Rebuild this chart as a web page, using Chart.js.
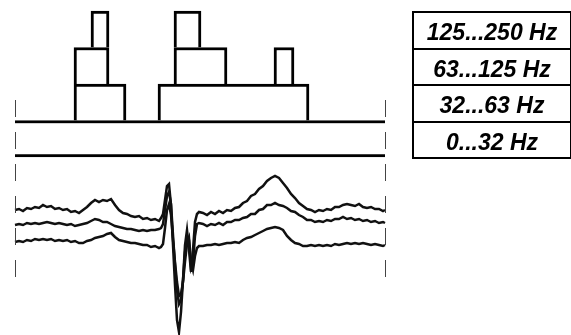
<!DOCTYPE html>
<html>
<head>
<meta charset="utf-8">
<script src="https://cdn.jsdelivr.net/npm/chart.js@4.4.1/dist/chart.umd.min.js"></script>
<style>
  html, body { margin: 0; padding: 0; background: #fff; }
  #wrap { position: relative; width: 571px; height: 335px; overflow: hidden; }
  #wrap canvas { position: absolute; left: 0; top: 0; }
  #bandTable {
    position: absolute; left: 412px; top: 11px; width: 156px;
    border: 2px solid #000;
    font: italic bold 23px "Liberation Sans", Arial, sans-serif;
    color: #000;
  }
  #bandTable div {
    height: 34.5px; line-height: 38px; text-align: center;
    border-top: 2px solid #000;
  }
  #bandTable div:first-child { border-top: none; }
</style>
</head>
<body>
<div id="wrap">
  <canvas id="waves" width="571" height="335"></canvas>
  <canvas id="bands" width="571" height="335"></canvas>
  <div id="bandTable"></div>
</div>
<script>
// 频带（从上到下）
const bandLabels = ['125...250 Hz', '63...125 Hz', '32...63 Hz', '0...32 Hz'];

// 各频带的活动区间 [起, 止]（ms），按列分组
const burstA = [[152, 188], [118, 188], [118, 222], [0, 740]];
const burstB = [[318, 372], [318, 424], [286, 588], null];
const burstC = [null, [518, 558], null, null];

// 时间轴（ms）
const timeMs = [
  0, 8, 16, 24, 32, 40, 48, 56, 64, 72, 80, 88, 96, 104, 112, 120, 128, 136, 144, 152,
  160, 168, 176, 184, 192, 200, 208, 216, 224, 232, 240, 248, 256, 264, 272, 280, 288,
  292, 296, 300, 304, 308, 312, 316, 320, 324, 328, 332, 336, 340, 344, 348, 352, 356, 360, 364, 368,
  376, 384, 392, 400, 408, 416, 424, 432, 440, 448, 456, 464, 472, 480, 488, 496, 504, 512,
  520, 528, 536, 544, 552, 560, 568, 576, 584, 592, 600, 608, 616, 624, 632, 640, 648, 656,
  664, 672, 680, 688, 696, 704, 712, 720, 728, 736, 740
];

// 三条波形
const trace1 = [
  30, 31, 29, 32, 31, 33, 32, 35, 33, 34, 31, 32, 30, 31, 28, 29, 27, 30, 33, 37,
  40, 38, 40, 39, 41, 35, 30, 27, 26, 24, 23, 24, 21, 22, 20, 21, 19,
  22, 26, 40, 54, 56, 35, -5, -45, -80, -92, -72, -40, -5, 10, -10, -32, -10, 18, 26, 28,
  27, 25, 28, 26, 29, 27, 30, 29, 32, 33, 37, 39, 44, 46, 51, 54, 59, 62, 64, 62,
  57, 52, 46, 42, 37, 34, 31, 30, 28, 30, 29, 31, 30, 33, 33, 35, 36, 35, 34, 36,
  33, 32, 33, 31, 31, 29, 30
];
const trace2 = [
  15, 16, 15, 17, 16, 17, 16, 17, 18, 17, 16, 17, 16, 15, 16, 14, 15, 16, 17, 19,
  21, 20, 18, 18, 16, 14, 13, 12, 11, 11, 10, 9, 10, 9, 10, 10, 11,
  12, 16, 30, 44, 48, 36, 5, -25, -50, -64, -60, -40, -12, 4, 0, -28, -22, 4, 16, 17,
  16, 14, 16, 15, 17, 15, 18, 18, 20, 20, 22, 23, 26, 26, 30, 31, 35, 35, 37, 35,
  34, 32, 29, 28, 25, 23, 20, 20, 18, 19, 18, 20, 19, 21, 21, 23, 21, 22, 20, 21,
  19, 20, 18, 19, 17, 18, 17
];
const trace3 = [
  -2, -1, -2, 0, -1, 1, 0, 1, 0, 1, -1, 0, -1, 0, -2, -1, -3, -3, -1, 0,
  2, 3, 4, 6, 7, 3, 0, -1, -2, -3, -3, -4, -5, -5, -7, -6, -8,
  -7, -4, 12, 30, 36, 25, 0, -22, -42, -56, -54, -42, -22, -4, 2, -22, -30, -16, -8, -6,
  -6, -5, -5, -4, -5, -4, -3, -3, -2, -3, 0, 2, 3, 5, 7, 9, 11, 12, 13, 12,
  10, 4, 0, -3, -4, -6, -6, -5, -6, -5, -6, -5, -6, -4, -5, -4, -3, -4, -3, -4,
  -3, -4, -5, -4, -5, -6, -5
];

// ==================== 图例表格 ====================
const table = document.getElementById('bandTable');
bandLabels.forEach(label => {
  const row = document.createElement('div');
  row.textContent = label;
  table.appendChild(row);
});

// ==================== 波形 ====================
const toPoints = values => timeMs.map((t, i) => ({ x: t, y: values[i] }));

new Chart(document.getElementById('waves'), {
  type: 'line',
  data: {
    datasets: [trace1, trace2, trace3].map(v => ({
      data: toPoints(v),
      borderColor: '#111',
      borderWidth: 2.5,
      pointRadius: 0,
      tension: 0,
      clip: false
    }))
  },
  options: {
    responsive: false,
    animation: false,
    layout: { padding: { left: 15, right: 186, top: 160, bottom: 0 } },
    plugins: { legend: { display: false }, tooltip: { enabled: false } },
    scales: {
      x: { type: 'linear', min: 0, max: 740, display: false },
      y: { type: 'linear', min: -95, max: 80, display: false }
    }
  }
});

// ==================== 频带条 ====================
// 两端的断裂虚线
const breakLines = {
  id: 'breakLines',
  afterDatasetsDraw(chart) {
    const ctx = chart.ctx;
    const xs = chart.scales.x;
    ctx.save();
    ctx.strokeStyle = '#444';
    ctx.lineWidth = 1;
    ctx.setLineDash([17, 15]);
    [xs.min, xs.max].forEach(v => {
      const px = Math.round(xs.getPixelForValue(v)) + 0.5;
      ctx.beginPath();
      ctx.moveTo(px, 100);
      ctx.lineTo(px, 280);
      ctx.stroke();
    });
    ctx.restore();
  }
};

const barStyle = {
  backgroundColor: '#fff',
  borderColor: '#000',
  borderSkipped: false,
  borderWidth: ctx => ctx.dataIndex === 3
    ? { top: 3, bottom: 3, left: 0, right: 0 }
    : { top: 3, bottom: 0, left: 3, right: 3 },
  barPercentage: 1,
  categoryPercentage: 1,
  grouped: false,
  clip: false
};

new Chart(document.getElementById('bands'), {
  type: 'bar',
  data: {
    labels: bandLabels,
    datasets: [burstA, burstB, burstC].map(d => Object.assign({ data: d }, barStyle))
  },
  options: {
    indexAxis: 'y',
    responsive: false,
    animation: false,
    layout: { padding: { left: 15, right: 186, top: 11, bottom: 178 } },
    plugins: { legend: { display: false }, tooltip: { enabled: false } },
    scales: {
      x: { type: 'linear', min: 0, max: 740, display: false },
      y: { type: 'category', display: false }
    }
  },
  plugins: [breakLines]
});
</script>
</body>
</html>
